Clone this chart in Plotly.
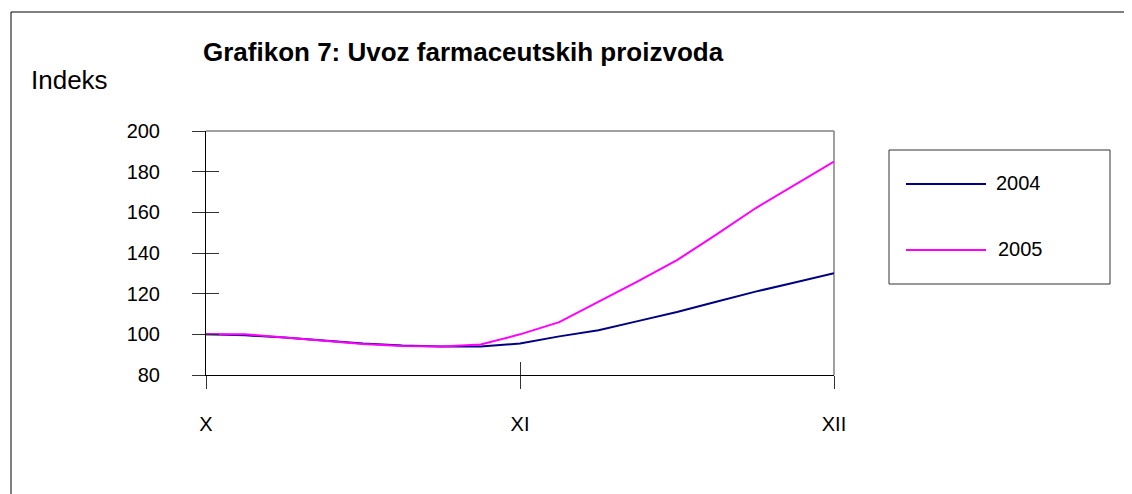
import plotly.graph_objects as go

# Indeks uvoza farmaceutskih proizvoda, tjedne tocke od X. do XII. mjeseca
periods = list(range(17))
month_ticks = [0, 8, 16]
month_labels = ["X", "XI", "XII"]

index_2004 = [100, 99.5, 98.5, 97, 95.5, 94.5, 94, 94, 95.5, 99, 102, 106.5, 111, 116, 121, 125.5, 130]
index_2005 = [100, 100, 98.5, 97, 95.3, 94.3, 94, 95, 100, 106, 116, 126, 136.5, 149, 162, 173.5, 185]

series = [("2004", index_2004, "#000080"), ("2005", index_2005, "#FF00FF")]

# stranica ima marginu od 8 px, pa je slika za toliko manja
OFF = 8
W, H = 1132 - OFF, 494 - OFF
L, R, T, B = 206 - OFF, 298, 131 - OFF, 119
pw, ph = W - L - R, H - T - B


def px(x):
    return (x - OFF - L) / pw


def py(y):
    return (H - B - (y - OFF)) / ph


font = "Arial, Liberation Sans, sans-serif"

fig = go.Figure()

for name, vals, color in series:
    fig.add_trace(go.Scatter(
        x=periods, y=vals, mode="lines", name=name,
        line=dict(color=color, width=2),
        showlegend=False,
    ))

# prazan trag da se nacrtaju unutarnje crtice osi
fig.add_trace(go.Scatter(x=[], y=[], xaxis="x2", yaxis="y2", showlegend=False))

axis_common = dict(showgrid=False, zeroline=False, ticklen=13, tickwidth=1, tickcolor="#333333")

fig.update_layout(
    width=W, height=H, autosize=False,
    margin=dict(l=L, r=R, t=T, b=B),
    paper_bgcolor="white", plot_bgcolor="white",
    font=dict(family=font, size=20, color="black"),
    xaxis=dict(
        range=[0, 16], tickvals=month_ticks, ticktext=month_labels,
        ticks="outside", showline=True, linecolor="black", linewidth=1,
        ticklabelstandoff=18, **axis_common,
    ),
    yaxis=dict(
        range=[80, 200], dtick=20, tick0=80,
        ticks="outside", showline=True, linecolor="black", linewidth=1,
        ticklabelstandoff=28, **axis_common,
    ),
    xaxis2=dict(
        overlaying="x", range=[0, 16], tickvals=month_ticks, side="bottom",
        ticks="inside", showticklabels=False, showline=False, **axis_common,
    ),
    yaxis2=dict(
        overlaying="y", range=[80, 200], dtick=20, tick0=80, side="left",
        ticks="inside", showticklabels=False, showline=False, **axis_common,
    ),
)

shapes = [
    # okvir cijele slike
    dict(type="rect", xref="paper", yref="paper", x0=px(11), x1=px(1160), y0=py(12), y1=py(540),
         line=dict(color="black", width=1), layer="below"),
    # sivi gornji i desni rub podrucja crtanja
    dict(type="line", xref="paper", yref="paper", x0=0, x1=1, y0=1, y1=1,
         line=dict(color="#808080", width=1.5), layer="below"),
    dict(type="line", xref="paper", yref="paper", x0=1, x1=1, y0=0, y1=1,
         line=dict(color="#808080", width=1.5), layer="below"),
    # okvir legende
    dict(type="rect", xref="paper", yref="paper", x0=px(889), x1=px(1110), y0=py(150), y1=py(284),
         line=dict(color="#333333", width=1)),
]

annotations = [
    dict(text="<b>Grafikon 7: Uvoz farmaceutskih proizvoda</b>", xref="paper", yref="paper",
         x=px(201), y=py(52), xanchor="left", yanchor="middle", showarrow=False,
         font=dict(size=26, family=font)),
    dict(text="Indeks", xref="paper", yref="paper", x=px(29), y=py(80),
         xanchor="left", yanchor="middle", showarrow=False, font=dict(size=26, family=font)),
]

legend_rows = [184, 250]
legend_text_x = [994, 996]
for (name, vals, color), ly, tx in zip(series, legend_rows, legend_text_x):
    shapes.append(dict(type="line", xref="paper", yref="paper", x0=px(906), x1=px(986),
                       y0=py(ly), y1=py(ly), line=dict(color=color, width=2)))
    annotations.append(dict(text=name, xref="paper", yref="paper", x=px(tx), y=py(ly - 1),
                            xanchor="left", yanchor="middle", showarrow=False,
                            font=dict(size=20, family=font)))

fig.update_layout(shapes=shapes, annotations=annotations)

fig.write_html("out.html")
